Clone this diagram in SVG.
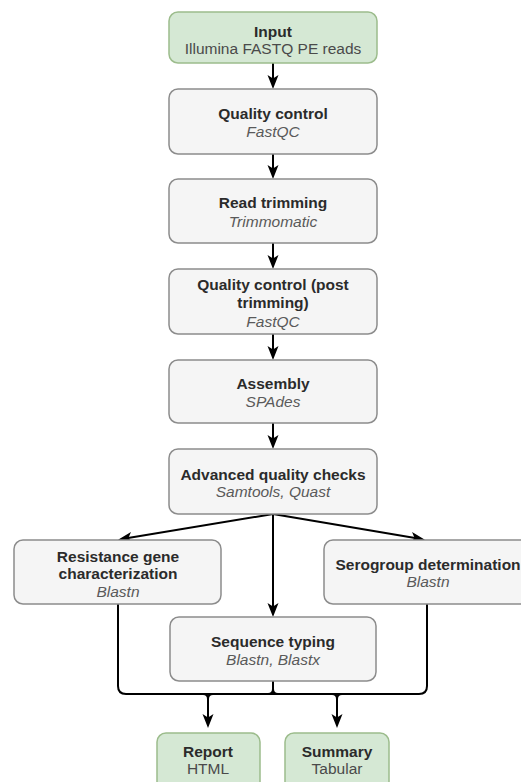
<svg xmlns="http://www.w3.org/2000/svg" width="521" height="782" viewBox="0 0 521 782">
<defs>
<marker id="ah" viewBox="0 0 14 12" refX="10" refY="6" markerWidth="14" markerHeight="12" markerUnits="userSpaceOnUse" orient="auto">
<path d="M0,0.5 L14,6 L0,11.5 L3.5,6 z" fill="#000"/>
</marker>
<style>
.box{fill:#f5f5f5;stroke:#8c8c8c;stroke-width:1.5}
.gbox{fill:#d5e8d4;stroke:#9cbc8c;stroke-width:1.5}
.t{font-family:"Liberation Sans",Arial,sans-serif;font-size:15.5px;font-weight:bold;fill:#2b2b2b;text-anchor:middle}
.s{font-family:"Liberation Sans",Arial,sans-serif;font-size:15.5px;font-style:italic;fill:#5a5a5a;text-anchor:middle}
.g{font-family:"Liberation Sans",Arial,sans-serif;font-size:15.5px;fill:#4a4a4a;text-anchor:middle}
.c{fill:none;stroke:#000;stroke-width:2}
.a{fill:none;stroke:#000;stroke-width:2;marker-end:url(#ah)}
</style>
</defs>
<rect width="521" height="782" fill="#fff"/>
<g id="connectors">
<line class="a" x1="273" y1="63" x2="273" y2="85"/>
<line class="a" x1="273" y1="154" x2="273" y2="175"/>
<line class="a" x1="273" y1="243" x2="273" y2="265"/>
<line class="a" x1="273" y1="334" x2="273" y2="356"/>
<line class="a" x1="273" y1="423" x2="273" y2="445"/>
<line class="a" x1="273" y1="514" x2="122" y2="539"/>
<line class="a" x1="273" y1="514" x2="421" y2="539"/>
<line class="a" x1="273" y1="514" x2="273" y2="613"/>
<path class="c" d="M118,604 V686 Q118,694 126,694 H419 Q427,694 427,686 V604"/>
<path class="c" d="M273,681 V689 Q273,694 268,694 M273,689 Q273,694 278,694"/>
<path class="a" d="M203,694 Q208,694 208,699 V724"/>
<path class="c" d="M213,694 Q208,694 208,699"/>
<path class="a" d="M332,694 Q337,694 337,699 V724"/>
<path class="c" d="M342,694 Q337,694 337,699"/>
</g>
<g id="input">
<rect class="gbox" x="169" y="12" width="208" height="51" rx="9"/>
<text class="t" x="273" y="37">Input</text>
<text class="g" x="273" y="54">Illumina FASTQ PE reads</text>
</g>
<g id="qc">
<rect class="box" x="169" y="89" width="208" height="65" rx="9"/>
<text class="t" x="273" y="119">Quality control</text>
<text class="s" x="273" y="137">FastQC</text>
</g>
<g id="trim">
<rect class="box" x="169" y="179" width="208" height="64" rx="9"/>
<text class="t" x="273" y="208">Read trimming</text>
<text class="s" x="273" y="227">Trimmomatic</text>
</g>
<g id="qcpost">
<rect class="box" x="169" y="269" width="208" height="65" rx="9"/>
<text class="t" x="273" y="290">Quality control (post</text>
<text class="t" x="273" y="308">trimming)</text>
<text class="s" x="273" y="327">FastQC</text>
</g>
<g id="assembly">
<rect class="box" x="169" y="360" width="208" height="63" rx="9"/>
<text class="t" x="273" y="389">Assembly</text>
<text class="s" x="273" y="407">SPAdes</text>
</g>
<g id="advqc">
<rect class="box" x="169" y="449" width="208" height="65" rx="9"/>
<text class="t" x="273" y="480">Advanced quality checks</text>
<text class="s" x="273" y="497">Samtools, Quast</text>
</g>
<g id="resistance">
<rect class="box" x="14" y="540" width="207" height="64" rx="9"/>
<text class="t" x="118" y="562">Resistance gene</text>
<text class="t" x="118" y="579">characterization</text>
<text class="s" x="118" y="597">Blastn</text>
</g>
<g id="serogroup">
<rect class="box" x="324" y="540" width="208" height="64" rx="9"/>
<text class="t" x="428" y="570">Serogroup determination</text>
<text class="s" x="428" y="587">Blastn</text>
</g>
<g id="seqtyping">
<rect class="box" x="170" y="617" width="206" height="64" rx="9"/>
<text class="t" x="273" y="647">Sequence typing</text>
<text class="s" x="273" y="665">Blastn, Blastx</text>
</g>
<g id="report">
<rect class="gbox" x="157" y="733" width="103" height="60" rx="9"/>
<text class="t" x="208" y="757">Report</text>
<text class="g" x="208" y="774">HTML</text>
</g>
<g id="summary">
<rect class="gbox" x="285" y="733" width="104" height="60" rx="9"/>
<text class="t" x="337" y="757">Summary</text>
<text class="g" x="337" y="774">Tabular</text>
</g>
</svg>
